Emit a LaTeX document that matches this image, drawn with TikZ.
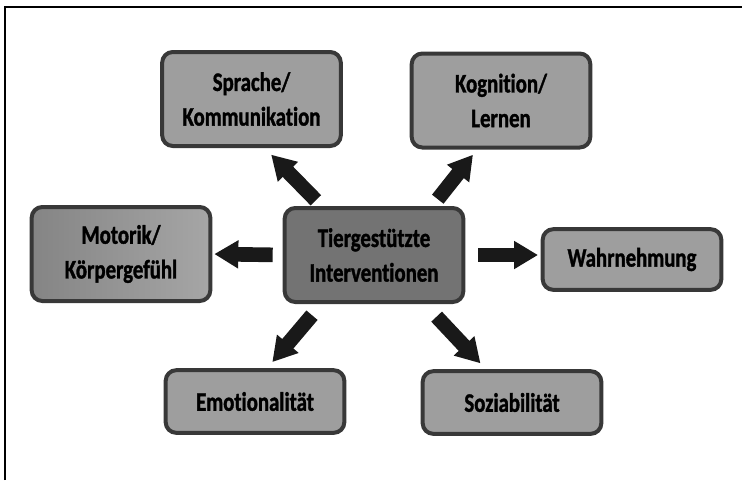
\documentclass[tikz,border=0pt]{standalone}
\usepackage{fontspec}
\setmainfont{Carlito}[FakeStretch=0.78, Ligatures=NoCommon, BoldFeatures={FakeBold=1.3}]
\usepackage{tikz}
\usetikzlibrary{arrows.meta}
\usetikzlibrary{positioning}
\tikzstyle{block} = [rectangle, draw=black!78, fill=black!38, line width=3pt,
    rounded corners=8pt, align=center, inner sep=0pt,
    font=\fontsize{20}{26}\selectfont\bfseries]
\tikzstyle{line} = [draw=black!90, line width=11pt, -{Triangle[width=20pt,length=18pt]}]

\begin{document}
\begin{tikzpicture}[x=0.75pt,y=-0.75pt]
\useasboundingbox (0,0) rectangle (742,480);

% frame of the page
\draw[line width=2pt] (5,480) |- (742,7);

% Define block styles
\tikzstyle{tall} = [block, minimum width=134pt, minimum height=70.5pt]
\tikzstyle{flat} = [block, minimum width=134pt, minimum height=47pt]

\node [tall, fill=black!55] (tiere) at (374,255) {Tiergestützte\\Interventionen};

\node [tall] (sprache) at (251.5,99) {Sprache/\\Kommunikation};
\node [tall] (kognition) at (501,100.5) {Kognition/\\Lernen};
\node [tall, left color=black!48, right color=black!35] (motorik) at (121,254) {Motorik/\\Körpergefühl};
\node [flat, minimum height=45.5pt] (wahrnehmung) at (632,259.5) {Wahrnehmung};
\node [flat] (emotion) at (255,401.5) {Emotionalität};
\node [flat] (sozial) at (512,402.5) {Soziabilität};

\draw[line, shorten <=6pt, shorten >=7pt] (tiere.137) -- (sprache.285);
\draw[line, shorten <=6.5pt, shorten >=5pt] (tiere.40.5) -- (kognition.244);
\draw[line, shorten <=7.5pt, shorten >=1.5pt] (tiere.west) -- (motorik.east);
\draw[line, shorten <=9.5pt, shorten >=2pt] (tiere.east) -- (tiere.east -| wahrnehmung.west);
\draw[line, shorten <=11pt, shorten >=6pt] (tiere.223.6) -- (emotion.70.7);
\draw[line, shorten <=13pt, shorten >=6pt] (tiere.316) -- (sozial.128);

\end{tikzpicture}
\end{document}
